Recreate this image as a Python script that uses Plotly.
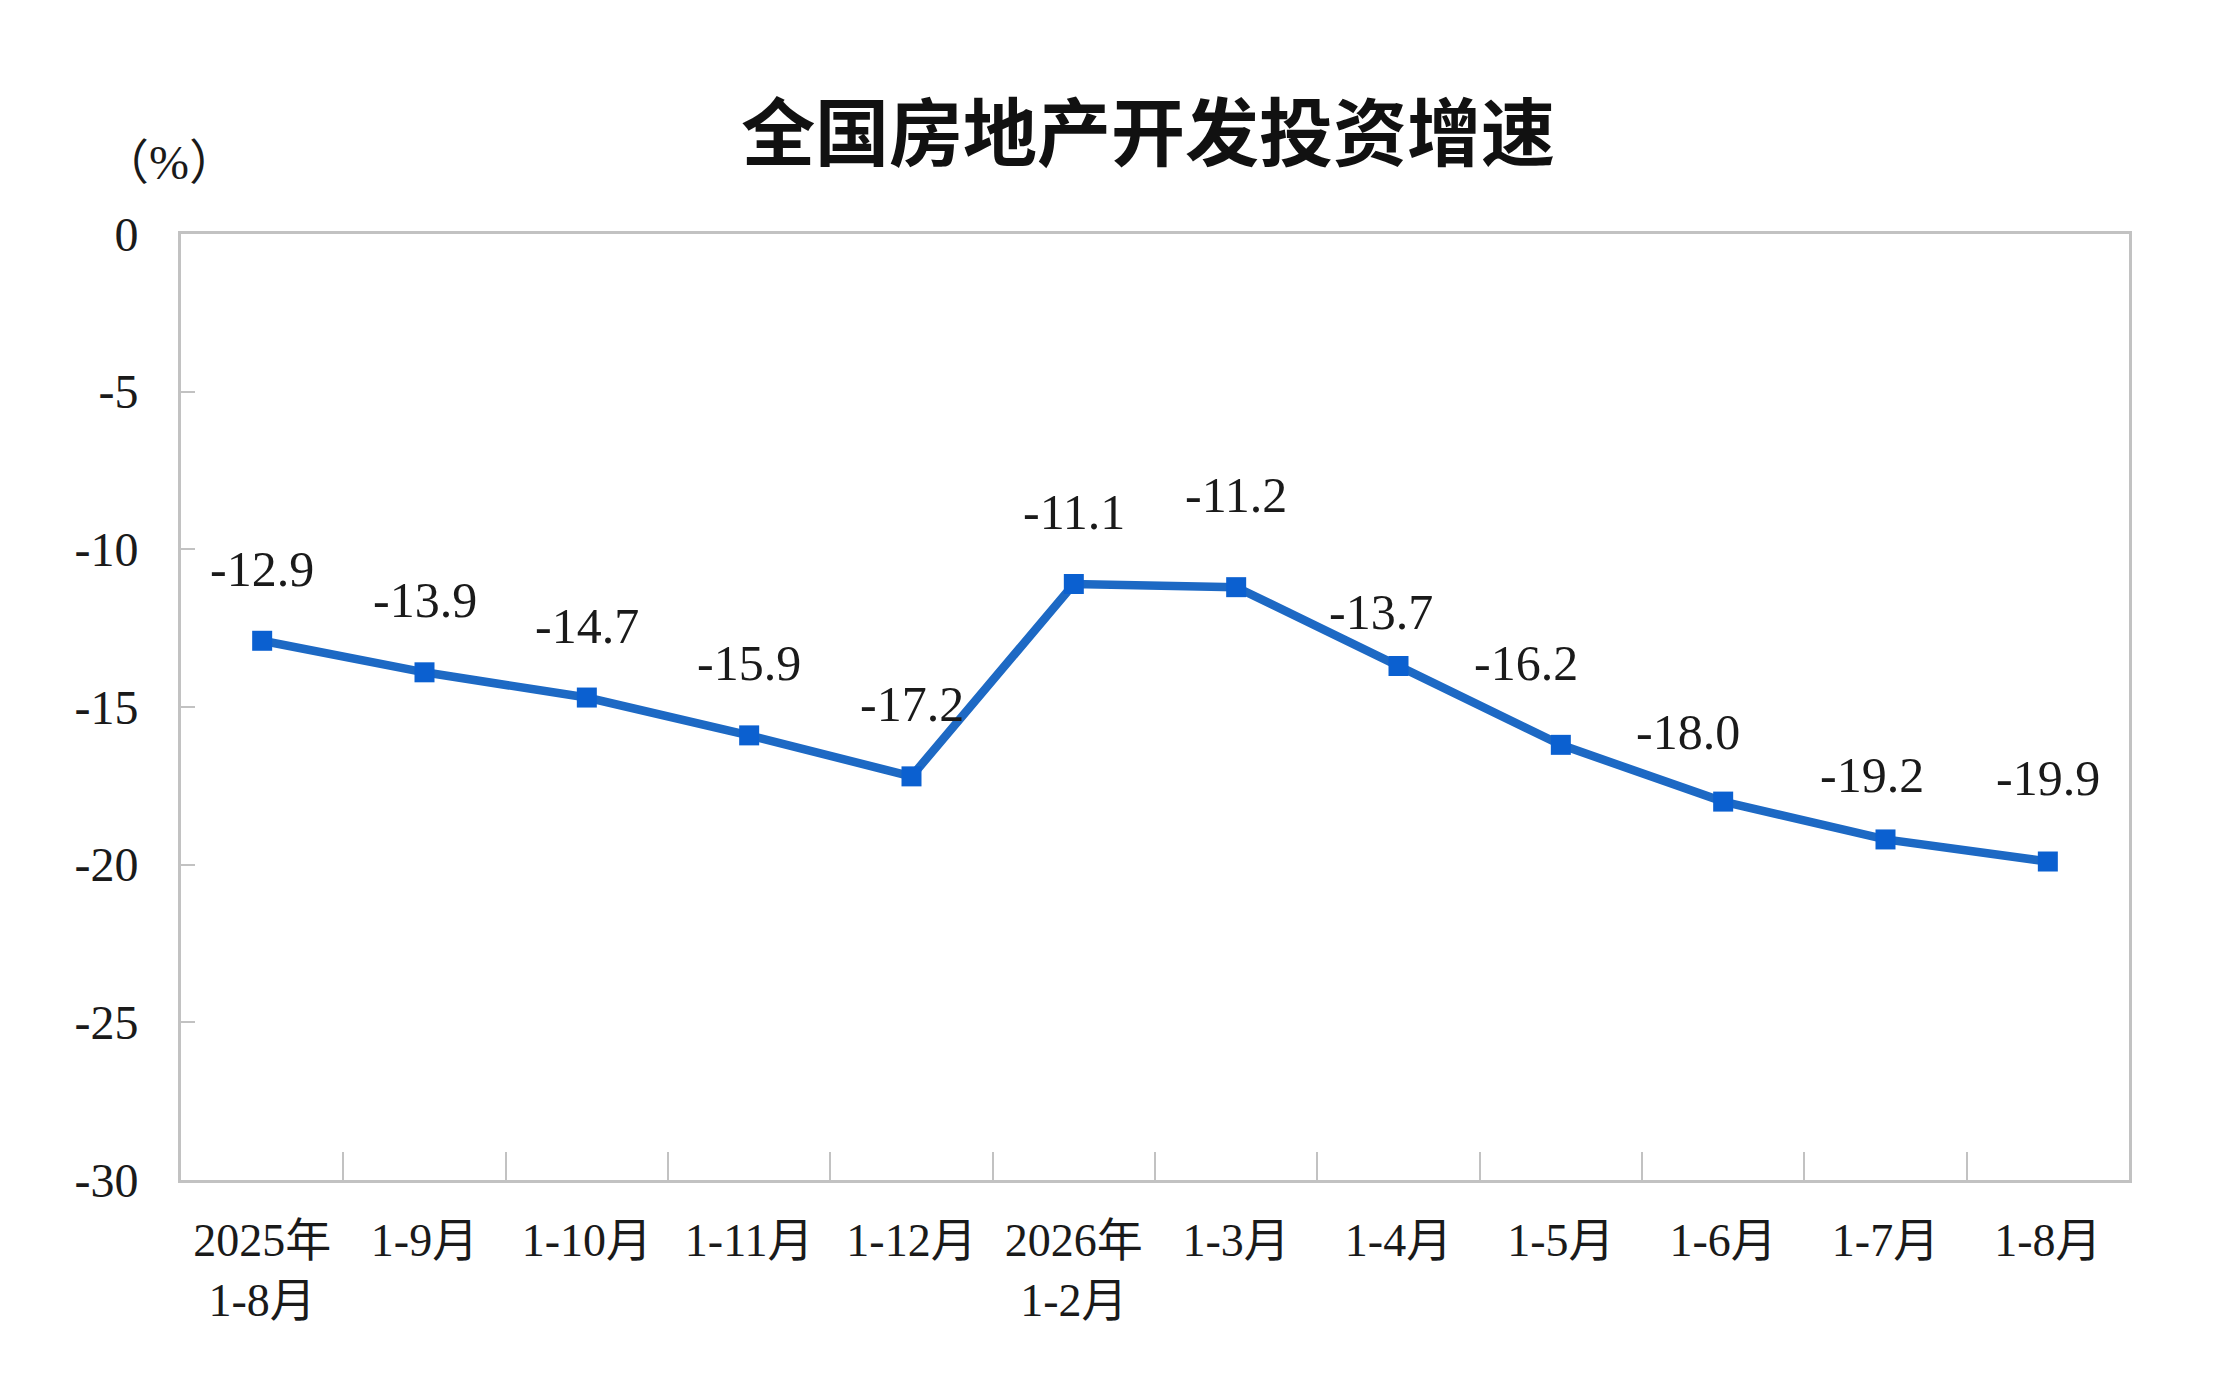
import plotly.graph_objects as go

# 全国房地产开发投资累计增速（%）
periods = ["2025年<br>1-8月", "1-9月", "1-10月", "1-11月", "1-12月",
           "2026年<br>1-2月", "1-3月", "1-4月", "1-5月", "1-6月", "1-7月", "1-8月"]
growth = [-12.9, -13.9, -14.7, -15.9, -17.2, -11.1, -11.2, -13.7, -16.2, -18.0, -19.2, -19.9]

y_ticks = [0, -5, -10, -15, -20, -25, -30]
y_tick_text = ["0", "-5", "-10", "-15", "-20", "-25", "-30"]

# décalage des étiquettes (px) : un peu de réglage à la main comme sur l'original
label_dx = [0, 0, 0, 0, 0, 0, 0, -18, -35, -35, -14, 0]
label_dy = [72, 72, 72, 72, 72, 72, 92, 54, 82, 70, 64, 84]

LINE_BLUE = "#1d69c4"
MARK_BLUE = "#0b60d0"
SERIF = "Liberation Serif, Noto Sans CJK SC, serif"
AXIS_GREY = "#c2c2c2"
TXT = "#1a1a1a"

fig = go.Figure(go.Scatter(
    x=periods, y=growth,
    mode="lines+markers",
    line=dict(color=LINE_BLUE, width=8.5),
    marker=dict(symbol="square", size=20, color=MARK_BLUE),
    showlegend=False,
))

for p, v, dx, dy in zip(periods, growth, label_dx, label_dy):
    fig.add_annotation(
        x=p, y=v, text=f"{v:.1f}", showarrow=False,
        xshift=dx, yshift=dy,
        font=dict(family=SERIF, size=50, color=TXT),
    )

fig.add_annotation(
    text="（%）", xref="paper", yref="paper",
    x=-0.006, y=1.0, xanchor="center", yanchor="middle", yshift=72,
    showarrow=False,
    font=dict(family=SERIF, size=48, color=TXT),
)

fig.update_layout(
    width=2216, height=1376,
    paper_bgcolor="white", plot_bgcolor="white",
    margin=dict(l=173, r=95, t=226, b=204),
    title=dict(
        text="全国房地产开发投资增速",
        x=0.5145, xanchor="center", y=0.908, yanchor="middle",
        font=dict(family="Noto Sans CJK SC", size=74, color="#111111", weight="bold"),
    ),
)

fig.update_xaxes(
    type="category", range=[-0.5, len(periods) - 0.5],
    showline=True, linecolor=AXIS_GREY, linewidth=3, mirror=True,
    showgrid=False,
    ticks="inside", tickson="boundaries", ticklen=28, tickcolor=AXIS_GREY, tickwidth=2,
    ticklabelstandoff=18,
    tickfont=dict(family=SERIF, size=46, color=TXT),
)
fig.update_yaxes(
    range=[-30, 0], tickvals=y_ticks, ticktext=y_tick_text,
    showline=True, linecolor=AXIS_GREY, linewidth=3, mirror=True,
    showgrid=False, zeroline=False,
    ticks="inside", ticklen=14, tickcolor=AXIS_GREY, tickwidth=2,
    ticklabelstandoff=30,
    tickfont=dict(family=SERIF, size=48, color=TXT),
)

fig.write_html("out.html")
